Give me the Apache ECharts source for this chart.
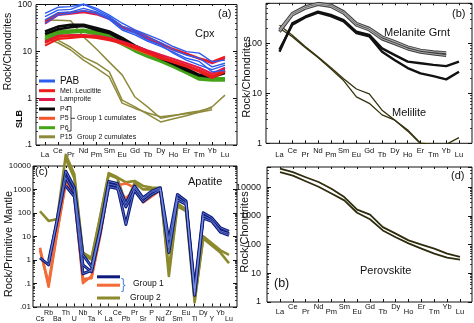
<!DOCTYPE html>
<html>
<head>
<meta charset="utf-8">
<script src="https://cdn.jsdelivr.net/npm/echarts@6/dist/echarts.min.js"></script>
<style>
  html, body { margin: 0; padding: 0; background: #fff; }
  #chart { width: 474px; height: 323px; }
</style>
</head>
<body>
<div id="chart"></div>
<script>
const FONT = '"Liberation Sans", Arial, Helvetica, sans-serif';

// Element orders on the x axes
const REE = ['La','Ce','Pr','Nd','Pm','Sm','Eu','Gd','Tb','Dy','Ho','Er','Tm','Yb','Lu'];
const SPIDER = ['Cs','Rb','Ba','Th','U','Nb','Ta','K','La','Ce','Pb','Pr','Sr','P','Nd','Zr','Sm','Eu','Ti','Dy','Y','Yb','Lu'];

// (a) Clinopyroxene, rock/chondrite
const cpxPAB = [
  [63, 85, 88, 100, 81, 58, 39, 28, 22, 17, 12.3, 9.7, 9, 5.9, 6.4],
  [54, 74, 77, 98, 74, 54, 34, 26, 19.5, 15, 10.5, 8.2, 7, 4.6, 5.5],
  [46, 65, 68, 81, 68, 50, 30, 24, 17, 13.4, 8.9, 6.4, 5, 4, 5],
  [39, 58, 64, 72, 63, 47, 28, 22, 16, 12.5, 9.5, 7, 6, 3.6, 3.9]
];
const cpxMelLeucitite = [
  [42, 63, 66, 71, 64, 50, 33, 27, 20, 14.6, 11, 8.9, 7, 5.9, 7.6],
  [13, 18, 19, 20, 19, 17, 14.5, 11.6, 9, 7, 5.7, 4.6, 3.6, 2.66, 3.6],
  [15, 20, 21, 21, 20, 18, 15, 12.5, 9.5, 7.6, 6.2, 5, 3.9, 2.9, 4]
];
const cpxLamproite = [
  [38, 58, 62, 67, 60, 48, 31, 25, 18, 14, 10.5, 8.5, 6.8, 5.5, 7],
  [16, 21, 22, 22, 21, 19, 16, 13, 10.3, 8.3, 6.8, 5.5, 4.4, 3.3, 4.4]
];
const cpxP4 = [
  [26, 33, 36, 36, 31, 26, 19, 13, 9.8, 7.6, 5.8, 4.2, 3.1, 2.95, 3.8],
  [23, 29, 32, 34, 28, 24, 17, 12, 9, 7, 5.3, 3.9, 3, 2.8, 3.4]
];
const cpxP5 = [
  [15, 20, 20, 21, 20, 18, 14, 11, 8.6, 7, 5.8, 4.8, 3.9, 3.1, 3.8]
];
const cpxP6 = [
  [20, 26, 27, 28, 25, 21, 15.5, 11, 8.3, 6.5, 5, 3.7, 2.7, 2.6, 2.6],
  [17, 23, 25, 26, 23, 19, 14, 10, 7.6, 6, 4.6, 3.4, 2.5, 2.4, 2.4]
];
const cpxP15 = [
  [45, 45, 44, 20, 11, 5.8, 3.1, 1.05, 0.64, 0.37, 0.42, 0.48, 0.53, 0.62, null],
  [24, 17, 12, 7.4, 5.5, 3.6, 0.9, 0.65, 0.45, 0.31, 0.36, 0.42, 0.5, 0.65, 1.15],
  [19, 15, 10.5, 6.4, 4.3, 2.8, 0.78, 0.6, 0.48, 0.4, 0.43, 0.46, 0.5, 0.56, null]
];

// (b) Melanite garnet and melilite, rock/chondrite
const grtMelaniteGrey = [
  [185, 398, 540, 630, 585, 430, 251, 200, 135, 108, 85, 73, 68, 65, null],
  [170, 370, 500, 595, 545, 400, 230, 185, 122, 98, 77, 66, 61, 57, null]
];
const grtMelaniteBlack = [
  [68, 251, 340, 430, 370, 292, 170, 147, 79, 58, 43, 40, 37, 35, 43],
  [75, 235, 330, 410, 350, 275, 160, 138, 68, 46, 32, 25, 22, 19, 27]
];
const melilite = [
  [230, 145, 86, 54, 33, 19.5, 12.2, 9.7, 4.6, 2.9, 1.85, 1.01, 0.95, 0.95, 1.3],
  [200, 135, 82, 52, 31, 18, 8.5, 6.3, 3.7, 2.9, 1.75, 0.98, 0.9, 0.88, 0.9]
];

// (c) Apatite, rock/primitive mantle
const apGroup1Navy = [
  [1.2, 0.6, 55, 6000, 1200, 1.6, 0.5, 20, 2200, 1800, 250, 1400, 440, 850, 1180, 7, 610, 320, 0.06, 100, 61, 23, 16],
  [null, 0.9, 45, 3200, 750, 0.6, 0.3, 15, 1700, 1400, 32, 1200, 380, 750, 1050, 3.2, 450, 260, 0.04, 75, 50, 17, 13],
  [null, null, null, 1400, 500, 0.25, 0.35, 15, 1300, 1100, 180, 900, 300, 600, 950, 2, 355, 230, 0.03, 59, 43, 15, 11]
];
const apGroup1Orange = [
  [3.2, 0.07, 15, 2300, 600, 0.1, 0.2, 12, 1650, 1500, 1800, 1200, 320, 600, 1000, 4, 500, 280, 0.04, 80, 50, 18, 13],
  [2.5, 0.1, 15, 1800, 500, 0.15, 0.16, 10, 1400, 1200, 400, 1000, 280, 500, 900, 3, 400, 250, 0.05, 70, 45, 16, 12]
];
const apGroup2 = [
  [117, 45, 55, 30000, 4400, 2, 1.2, 70, 5000, 3300, 2000, 2300, 1400, 1200, 1180, 0.2, 190, 117, 0.015, 10, 5, 2.5, 1.6],
  [null, null, null, 20000, 3000, 1.6, 1, 60, 4200, 3000, 250, 1900, 1000, 1000, 1000, 0.4, 250, 140, 0.02, 8, 4, 2, 0.7]
];

// (d) Perovskite, rock/chondrite
const perovskite = [
  [43600, 33000, 22000, 15000, 8800, 4500, 1650, 1100, 405, 240, 140, 100, 72, 48, 37],
  [33000, 25000, 16000, 10300, 6000, 3450, 1280, 760, 310, 180, 110, 72, 48, 35, 30]
];

// Panel frames (outer box) and plotting strips (first to last element)
const panels = [
  { frame: { left: 36, top: 4, width: 201, height: 141 }, plot: { left: 45, width: 180 },
    y: [0.1, 100], cats: REE, xFont: 7.5, xMargin: 1.5, xDrop: 4, yFont: 8.5, yMargin: 4 },
  { frame: { left: 266, top: 3.3, width: 206, height: 140 }, plot: { left: 279.5, width: 179.5 },
    y: [1, 631], cats: REE, xFont: 7.5, xMargin: 3.5, xDrop: 4.5, yFont: 9, yMargin: 4 },
  { frame: { left: 33, top: 166, width: 204, height: 141 }, plot: { left: 40, width: 189 },
    y: [0.01, 10000], cats: SPIDER, xFont: 7, xMargin: 3.5, xDrop: 6, yFont: 8, yMargin: 2 },
  { frame: { left: 267, top: 167, width: 205, height: 135 }, plot: { left: 280, width: 180 },
    y: [1, 50000], cats: REE, xFont: 7.5, xMargin: 0.5, xDrop: 5, yFont: 9, yMargin: 6 }
];

function decadeLabel(v) {
  const l = Math.log10(v);
  const e = Math.round(l);
  if (Math.abs(l - e) > 1e-3) return '';
  return e >= 0 ? String(Math.pow(10, e)) : '.' + '0'.repeat(-e - 1) + '1';
}

const grid = [], xAxis = [], yAxis = [];
panels.forEach((p, i) => {
  grid.push({ left: p.frame.left, top: p.frame.top, width: p.frame.width, height: p.frame.height,
    show: true, borderColor: '#111', borderWidth: 1, backgroundColor: 'transparent' });
  grid.push({ left: p.plot.left, top: p.frame.top, width: p.plot.width, height: p.frame.height });
  const gFrame = 2 * i, gPlot = 2 * i + 1;
  xAxis.push({ gridIndex: gFrame, type: 'value', min: 0, max: 1, show: false });
  xAxis.push({ gridIndex: gPlot, type: 'category', data: p.cats, boundaryGap: false, position: 'bottom',
    axisLine: { show: false },
    axisTick: { show: true, inside: true, length: 3, interval: 0, lineStyle: { color: '#111', width: 1 } },
    axisLabel: { interval: 0, hideOverlap: false, margin: p.xMargin, color: '#111', fontFamily: FONT, fontSize: p.xFont,
      formatter: (v, k) => (k % 2 ? '{hi|' + v + '}' : '{lo|' + v + '}'),
      rich: {
        hi: { fontSize: p.xFont, fontFamily: FONT, color: '#111' },
        lo: { fontSize: p.xFont, fontFamily: FONT, color: '#111', padding: [p.xDrop, 0, 0, 0] }
      } },
    splitLine: { show: false } });
  xAxis.push({ gridIndex: gPlot, type: 'category', data: p.cats, boundaryGap: false, position: 'top',
    axisLine: { show: false },
    axisTick: { show: true, inside: true, length: 2, interval: 0, lineStyle: { color: '#111', width: 1 } },
    axisLabel: { show: false }, splitLine: { show: false } });
  const yCommon = { type: 'log', logBase: 10, min: p.y[0], max: p.y[1], splitLine: { show: false },
    axisLine: { show: false },
    axisTick: { show: true, inside: true, length: 4, lineStyle: { color: '#111', width: 1 } },
    minorTick: { show: true, splitNumber: 9, length: 2, lineStyle: { color: '#111', width: 0.8 } } };
  yAxis.push(Object.assign({}, yCommon, { gridIndex: gFrame, position: 'left',
    axisLabel: { formatter: decadeLabel, fontSize: p.yFont, fontFamily: FONT, color: '#111', margin: p.yMargin } }));
  yAxis.push(Object.assign({}, yCommon, { gridIndex: gFrame, position: 'right', axisLabel: { show: false } }));
  yAxis.push({ gridIndex: gPlot, type: 'log', logBase: 10, min: p.y[0], max: p.y[1], show: false });
});

const series = [];
function addLines(panelIdx, rows, name, color, width, extra) {
  rows.forEach(row => {
    series.push(Object.assign({
      type: 'line', name: name, data: row, color: color,
      xAxisIndex: 3 * panelIdx + 1, yAxisIndex: 3 * panelIdx + 2,
      symbol: 'none', silent: true, animation: false,
      lineStyle: { color: color, width: width, join: 'round' },
      itemStyle: { color: color }
    }, extra || {}));
  });
}

// (a) drawn back to front
addLines(0, cpxP15, 'P15', '#8e8a3c', 1.5);
addLines(0, cpxP6, 'P6', '#45a318', 3);
addLines(0, cpxP4, 'P4', '#0b0b0b', 2.6);
addLines(0, cpxP5, 'P5', '#f2552c', 1.8);
addLines(0, cpxLamproite, 'Lamproite', '#e3174a', 2);
addLines(0, cpxMelLeucitite, 'Mel. Leucitite', '#ec1c1c', 2);
addLines(0, cpxPAB, 'PAB', '#2c5cf0', 1.4);

// (b)
addLines(1, melilite, 'Melilite', '#35320c', 1.3);
addLines(1, grtMelaniteBlack, 'Melanite Grnt', '#111111', 2.4);
addLines(1, grtMelaniteGrey, 'Melanite Grnt (grey)', '#3c3c3c', 3);
addLines(1, grtMelaniteGrey, 'Melanite Grnt (grey core)', '#a8a8a8', 1.1);

// (c)
addLines(2, apGroup2, 'Group 2', '#8c8a2c', 2.6, { clip: false });
addLines(2, apGroup1Orange, 'Group 1 (b)', '#f36b36', 2.6);
addLines(2, apGroup1Navy, 'Group 1 (a)', '#0d1a7c', 3);
addLines(2, apGroup1Navy, 'Group 1 (a) core', '#8aa6ee', 0.6);

// (d)
addLines(3, perovskite, 'Perovskite', '#2e2c0c', 1.8);

// Legends, one per row so each row sits at its own height
const cpxLegendNames = ['PAB', 'Mel. Leucitite', 'Lamproite', 'P4', 'P5', 'P6', 'P15'];
const cpxLegendRows = [81, 90.7, 99.5, 109, 118.3, 127.7, 136.8];
const legend = cpxLegendNames.map((n, k) => {
  const fs = n === 'PAB' ? 10 : 7;
  const lh = fs + 2;
  return {
    data: [n], left: 39, top: cpxLegendRows[k] - lh / 2, padding: 0, itemGap: 0,
    icon: 'rect', itemWidth: 16, itemHeight: 3, selectedMode: false,
    textStyle: { fontSize: fs, lineHeight: lh, fontFamily: FONT, color: '#111' }
  };
});
[['Group 1 (a)', 280.3, ''], ['Group 1 (b)', 288.7, ''], ['Group 2', 298, 'Group 2']].forEach(([n, y, label]) => {
  legend.push({
    data: [n], left: 97, top: y - 5, padding: 0, itemGap: 0,
    icon: 'rect', itemWidth: 23, itemHeight: 3, selectedMode: false,
    formatter: () => (label ? '{p|' + label + '}' : ''),
    textStyle: { fontSize: 8.5, lineHeight: 10, fontFamily: FONT, color: '#111',
      rich: { p: { fontSize: 8.5, fontFamily: FONT, color: '#111', padding: [0, 0, 0, 5] } } }
  });
});

function label(text, x, y, size, opts) {
  return Object.assign({ type: 'text', x: x, y: y, silent: true,
    style: { text: text, fontSize: size, fontFamily: FONT, fill: '#111', align: 'left', verticalAlign: 'middle' } },
    opts || {});
}
function vlabel(text, x, y, size, weight) {
  return { type: 'text', x: x, y: y, rotation: Math.PI / 2, silent: true,
    style: { text: text, fontSize: size, fontFamily: FONT, fontWeight: weight || 'normal', fill: '#111',
      align: 'center', verticalAlign: 'middle' } };
}

const graphic = [
  // (a)
  label('(a)', 218, 13.5, 11),
  label('Cpx', 195, 33.5, 11),
  vlabel('Rock/Chondrites', 8, 51.5, 10.5),
  vlabel('SLB', 20, 119, 9, 'bold'),
  { type: 'polyline', silent: true, shape: { points: [[67, 106.5], [71, 106.5], [71, 131], [67, 131]] },
    style: { stroke: '#111', lineWidth: 0.8, fill: null } },
  { type: 'line', silent: true, shape: { x1: 71, y1: 118.3, x2: 75, y2: 118.3 }, style: { stroke: '#111', lineWidth: 0.8 } },
  label('Group 1 cumulates', 77, 118.3, 7),
  label('Group 2 cumulates', 77, 136.8, 7),
  // (b)
  label('(b)', 452, 13.5, 11),
  label('Melanite Grnt', 384, 32.5, 11),
  label('Melilite', 392, 112.5, 11),
  vlabel('Rock/Chondrites', 247, 77, 11),
  // (c)
  label('(c)', 35, 172, 11),
  label('Apatite', 188, 182, 11),
  vlabel('Rock/Primitive Mantle', 9, 244, 11),
  label('}', 121, 285, 14, { style: { text: '}', fontSize: 14, fontFamily: FONT, fill: '#5a8ee6', align: 'left', verticalAlign: 'middle' } }),
  label('Group 1', 133, 284, 8.5),
  // (d)
  label('(d)', 451, 176, 11),
  label('Perovskite', 360, 271, 11),
  label('(b)', 274, 283.5, 12.5),
  vlabel('Rock/Chondrites', 245, 232, 11)
];

const chart = echarts.init(document.getElementById('chart'), null, { renderer: 'canvas' });
chart.setOption({
  animation: false,
  backgroundColor: '#ffffff',
  textStyle: { fontFamily: FONT },
  grid: grid,
  xAxis: xAxis,
  yAxis: yAxis,
  legend: legend,
  series: series,
  graphic: graphic
});
</script>
</body>
</html>
